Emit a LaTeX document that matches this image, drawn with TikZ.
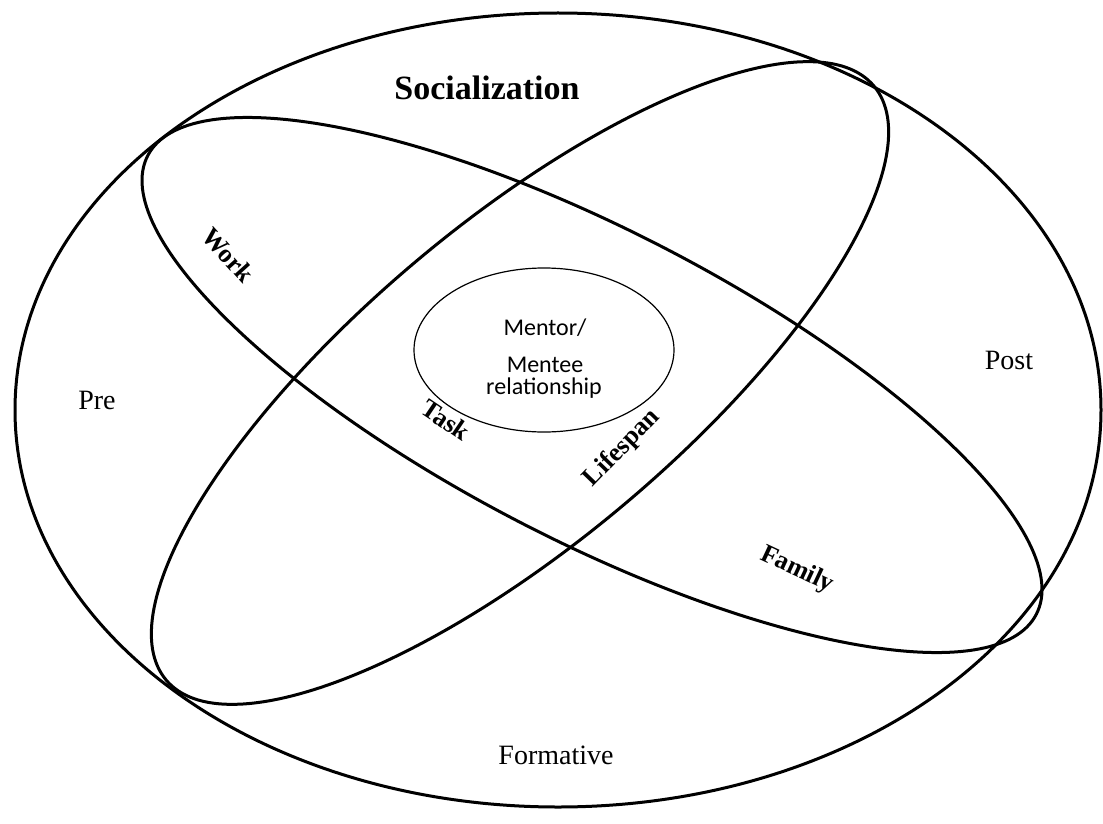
\documentclass[tikz,border=0pt]{standalone}
\usepackage{fontspec}
\setmainfont{Liberation Serif}
\newfontfamily\carlito{Carlito}
\usetikzlibrary{shapes.geometric}

\begin{document}
\begin{tikzpicture}[x=0.5pt, y=-0.5pt]
	\useasboundingbox (0,0) rectangle (1103,824);

	% 楕円を描く
	\node[ellipse, draw, line width=1.5pt, inner sep=0pt, minimum width=543pt, minimum height=397pt] (outer) at (558, 410) {};
	\node[ellipse, draw, line width=1.5pt, inner sep=0pt, minimum width=500pt, minimum height=155pt, rotate=-27.3] (family) at (592, 385) {};
	\node[ellipse, draw, line width=1.5pt, inner sep=0pt, minimum width=462pt, minimum height=160pt, rotate=40] (life) at (520, 383) {};
	\node[ellipse, draw, line width=0.6pt, inner sep=0pt, minimum width=130pt, minimum height=82pt] (mentor) at (544, 350) {};

	% 値を入れる
	\node[font=\fontsize{17}{20}\selectfont\bfseries] (social) at (487, 88) {Socialization};
	\node[font=\fontsize{14}{16}\selectfont] (pre) at (97, 400) {Pre};
	\node[font=\fontsize{14}{16}\selectfont] (post) at (1009, 360) {Post};
	\node[font=\fontsize{14}{16}\selectfont] (form) at (556, 755) {Formative};

	\node[font=\fontsize{13}{15}\selectfont\bfseries, rotate=-48] (work) at (228, 255) {Work};
	\node[font=\fontsize{13}{15}\selectfont\bfseries, rotate=-34] (task) at (446, 420) {Task};
	\node[font=\fontsize{13}{15}\selectfont\bfseries, rotate=46] (span) at (622, 448) {Lifespan};
	\node[font=\fontsize{13}{15}\selectfont\bfseries, rotate=-25] (fam) at (797, 570) {Family};

	\node[font=\fontsize{12}{14}\selectfont\carlito] (m1) at (545, 328) {Mentor/};
	\node[font=\fontsize{12}{14}\selectfont\carlito] (m2) at (545, 365) {Mentee};
	\node[font=\fontsize{12}{14}\selectfont\carlito] (m3) at (544, 388) {relationship};

\end{tikzpicture}
\end{document}
